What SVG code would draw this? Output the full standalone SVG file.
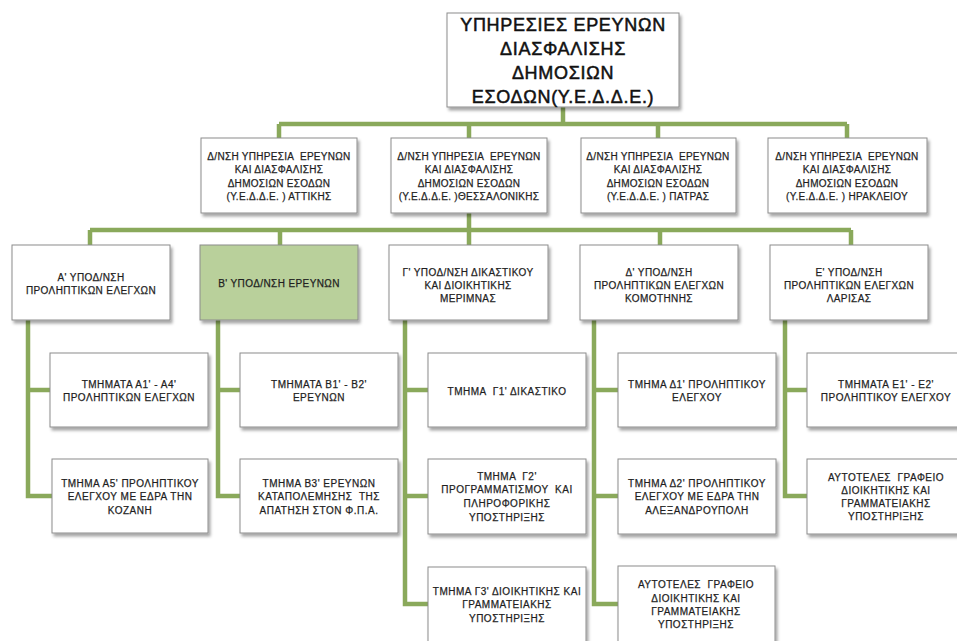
<svg xmlns="http://www.w3.org/2000/svg" width="957" height="641" viewBox="0 0 957 641">
<defs>
<filter id="sh" x="-10%" y="-10%" width="125%" height="130%">
<feDropShadow dx="2" dy="3" stdDeviation="1.8" flood-color="#000" flood-opacity="0.35"/>
</filter>
<style>
.box{fill:#fff;stroke:#8c8c8c;stroke-width:1;filter:url(#sh)}
.grn{fill:#b9d09b}
.ln{fill:none;stroke:#8aa95b;stroke-width:4.5}
text{font-family:"Liberation Sans",Arial,sans-serif;fill:#1f1f1f;stroke:#1f1f1f;stroke-width:0.25px;text-anchor:middle;white-space:pre}
.t0{font-size:18px;letter-spacing:0.7px;fill:#111;stroke:#111;stroke-width:0.5px}
.t1{font-size:10px;letter-spacing:0.3px}
.t2{font-size:10px;letter-spacing:0.4px}
.t3{font-size:10px;letter-spacing:0.5px}
</style>
</defs>
<rect width="957" height="641" fill="#fff"/>
<g id="connectors">
<path class="ln" d="M563 107V124M279 124H847M279 124V138M469 124V138M658 124V138M847 124V138"/>
<path class="ln" d="M90 230H851M469 213V245M90 230V245M280 230V245M660 230V245M851 230V245"/>
<path class="ln" d="M28 320V496H52M28 390H50"/>
<path class="ln" d="M218 320V496H240M218 390H240"/>
<path class="ln" d="M405 320V604H428M405 390H428M405 496H428"/>
<path class="ln" d="M594 320V604H618M594 390H618M594 496H618"/>
<path class="ln" d="M785 320V496H807M785 390H807"/>
</g>
<g id="root">
<rect class="box" x="447" y="13" width="232" height="94"/>
<text class="t0" x="563" y="31">ΥΠΗΡΕΣΙΕΣ ΕΡΕΥΝΩΝ</text>
<text class="t0" x="563" y="55">ΔΙΑΣΦΑΛΙΣΗΣ</text>
<text class="t0" x="563" y="79">ΔΗΜΟΣΙΩΝ</text>
<text class="t0" x="563" y="103">ΕΣΟΔΩΝ(Υ.Ε.Δ.Δ.Ε.)</text>
</g>
<g id="attikis">
<rect class="box" x="201" y="138" width="156" height="75"/>
<text class="t1" x="279" y="160">Δ/ΝΣΗ ΥΠΗΡΕΣΙΑ  ΕΡΕΥΝΩΝ</text>
<text class="t1" x="279" y="173">ΚΑΙ ΔΙΑΣΦΑΛΙΣΗΣ</text>
<text class="t1" x="279" y="187">ΔΗΜΟΣΙΩΝ ΕΣΟΔΩΝ</text>
<text class="t1" x="279" y="200">(Υ.Ε.Δ.Δ.Ε. ) ΑΤΤΙΚΗΣ</text>
</g>
<g id="thessalonikis">
<rect class="box" x="391" y="138" width="156" height="75"/>
<text class="t1" x="469" y="160">Δ/ΝΣΗ ΥΠΗΡΕΣΙΑ  ΕΡΕΥΝΩΝ</text>
<text class="t1" x="469" y="173">ΚΑΙ ΔΙΑΣΦΑΛΙΣΗΣ</text>
<text class="t1" x="469" y="187">ΔΗΜΟΣΙΩΝ ΕΣΟΔΩΝ</text>
<text class="t1" x="469" y="200">(Υ.Ε.Δ.Δ.Ε. )ΘΕΣΣΑΛΟΝΙΚΗΣ</text>
</g>
<g id="patras">
<rect class="box" x="581" y="138" width="155" height="75"/>
<text class="t1" x="658" y="160">Δ/ΝΣΗ ΥΠΗΡΕΣΙΑ  ΕΡΕΥΝΩΝ</text>
<text class="t1" x="658" y="173">ΚΑΙ ΔΙΑΣΦΑΛΙΣΗΣ</text>
<text class="t1" x="658" y="187">ΔΗΜΟΣΙΩΝ ΕΣΟΔΩΝ</text>
<text class="t1" x="658" y="200">(Υ.Ε.Δ.Δ.Ε. ) ΠΑΤΡΑΣ</text>
</g>
<g id="irakleiou">
<rect class="box" x="768" y="138" width="159" height="75"/>
<text class="t1" x="847" y="160">Δ/ΝΣΗ ΥΠΗΡΕΣΙΑ  ΕΡΕΥΝΩΝ</text>
<text class="t1" x="847" y="173">ΚΑΙ ΔΙΑΣΦΑΛΙΣΗΣ</text>
<text class="t1" x="847" y="187">ΔΗΜΟΣΙΩΝ ΕΣΟΔΩΝ</text>
<text class="t1" x="847" y="200">(Υ.Ε.Δ.Δ.Ε. ) ΗΡΑΚΛΕΙΟΥ</text>
</g>
<g id="ypod-a">
<rect class="box" x="12" y="245" width="158" height="75"/>
<text class="t2" x="91" y="281">Α' ΥΠΟΔ/ΝΣΗ</text>
<text class="t2" x="91" y="294">ΠΡΟΛΗΠΤΙΚΩΝ ΕΛΕΓΧΩΝ</text>
</g>
<g id="ypod-b">
<rect class="box grn" x="200" y="245" width="158" height="75"/>
<text class="t2" x="279" y="287">Β' ΥΠΟΔ/ΝΣΗ ΕΡΕΥΝΩΝ</text>
</g>
<g id="ypod-g">
<rect class="box" x="389" y="245" width="159" height="75"/>
<text class="t2" x="468" y="276">Γ' ΥΠΟΔ/ΝΣΗ ΔΙΚΑΣΤΙΚΟΥ</text>
<text class="t2" x="468" y="289">ΚΑΙ ΔΙΟΙΚΗΤΙΚΗΣ</text>
<text class="t2" x="468" y="302">ΜΕΡΙΜΝΑΣ</text>
</g>
<g id="ypod-d">
<rect class="box" x="580" y="245" width="158" height="75"/>
<text class="t2" x="659" y="276">Δ' ΥΠΟΔ/ΝΣΗ</text>
<text class="t2" x="659" y="289">ΠΡΟΛΗΠΤΙΚΩΝ ΕΛΕΓΧΩΝ</text>
<text class="t2" x="659" y="302">ΚΟΜΟΤΗΝΗΣ</text>
</g>
<g id="ypod-e">
<rect class="box" x="770" y="245" width="158" height="75"/>
<text class="t2" x="849" y="276">Ε' ΥΠΟΔ/ΝΣΗ</text>
<text class="t2" x="849" y="289">ΠΡΟΛΗΠΤΙΚΩΝ ΕΛΕΓΧΩΝ</text>
<text class="t2" x="849" y="302">ΛΑΡΙΣΑΣ</text>
</g>
<g id="a1-a4">
<rect class="box" x="50" y="353" width="158" height="74"/>
<text class="t3" x="129" y="388">ΤΜΗΜΑΤΑ Α1' - Α4'</text>
<text class="t3" x="129" y="401">ΠΡΟΛΗΠΤΙΚΩΝ ΕΛΕΓΧΩΝ</text>
</g>
<g id="a5">
<rect class="box" x="52" y="459" width="156" height="74"/>
<text class="t3" x="130" y="487">ΤΜΗΜΑ Α5' ΠΡΟΛΗΠΤΙΚΟΥ</text>
<text class="t3" x="130" y="500">ΕΛΕΓΧΟΥ ΜΕ ΕΔΡΑ ΤΗΝ</text>
<text class="t3" x="130" y="514">ΚΟΖΑΝΗ</text>
</g>
<g id="b1-b2">
<rect class="box" x="240" y="353" width="158" height="74"/>
<text class="t3" x="319" y="388">ΤΜΗΜΑΤΑ Β1' - Β2'</text>
<text class="t3" x="319" y="401">ΕΡΕΥΝΩΝ</text>
</g>
<g id="b3">
<rect class="box" x="240" y="459" width="158" height="74"/>
<text class="t3" x="319" y="487">ΤΜΗΜΑ Β3' ΕΡΕΥΝΩΝ</text>
<text class="t3" x="319" y="500">ΚΑΤΑΠΟΛΕΜΗΣΗΣ  ΤΗΣ</text>
<text class="t3" x="319" y="514">ΑΠΑΤΗΣΗ ΣΤΟΝ Φ.Π.Α.</text>
</g>
<g id="g1">
<rect class="box" x="428" y="353" width="158" height="74"/>
<text class="t3" x="507" y="395">ΤΜΗΜΑ  Γ1' ΔΙΚΑΣΤΙΚΟ</text>
</g>
<g id="g2">
<rect class="box" x="428" y="459" width="158" height="75"/>
<text class="t3" x="507" y="480">ΤΜΗΜΑ  Γ2'</text>
<text class="t3" x="507" y="493">ΠΡΟΓΡΑΜΜΑΤΙΣΜΟΥ  ΚΑΙ</text>
<text class="t3" x="507" y="507">ΠΛΗΡΟΦΟΡΙΚΗΣ</text>
<text class="t3" x="507" y="521">ΥΠΟΣΤΗΡΙΞΗΣ</text>
</g>
<g id="g3">
<rect class="box" x="428" y="567" width="158" height="80"/>
<text class="t3" x="507" y="595">ΤΜΗΜΑ Γ3' ΔΙΟΙΚΗΤΙΚΗΣ ΚΑΙ</text>
<text class="t3" x="507" y="608">ΓΡΑΜΜΑΤΕΙΑΚΗΣ</text>
<text class="t3" x="507" y="622">ΥΠΟΣΤΗΡΙΞΗΣ</text>
</g>
<g id="d1">
<rect class="box" x="618" y="353" width="158" height="74"/>
<text class="t3" x="697" y="388">ΤΜΗΜΑ Δ1' ΠΡΟΛΗΠΤΙΚΟΥ</text>
<text class="t3" x="697" y="401">ΕΛΕΓΧΟΥ</text>
</g>
<g id="d2">
<rect class="box" x="618" y="459" width="158" height="75"/>
<text class="t3" x="697" y="487">ΤΜΗΜΑ Δ2' ΠΡΟΛΗΠΤΙΚΟΥ</text>
<text class="t3" x="697" y="500">ΕΛΕΓΧΟΥ ΜΕ ΕΔΡΑ ΤΗΝ</text>
<text class="t3" x="697" y="514">ΑΛΕΞΑΝΔΡΟΥΠΟΛΗ</text>
</g>
<g id="d3">
<rect class="box" x="618" y="566" width="157" height="80"/>
<text class="t3" x="696" y="588">ΑΥΤΟΤΕΛΕΣ  ΓΡΑΦΕΙΟ</text>
<text class="t3" x="696" y="602">ΔΙΟΙΚΗΤΙΚΗΣ ΚΑΙ</text>
<text class="t3" x="696" y="615">ΓΡΑΜΜΑΤΕΙΑΚΗΣ</text>
<text class="t3" x="696" y="628">ΥΠΟΣΤΗΡΙΞΗΣ</text>
</g>
<g id="e1-e2">
<rect class="box" x="807" y="353" width="158" height="74"/>
<text class="t3" x="886" y="388">ΤΜΗΜΑΤΑ Ε1' - Ε2'</text>
<text class="t3" x="886" y="401">ΠΡΟΛΗΠΤΙΚΟΥ ΕΛΕΓΧΟΥ</text>
</g>
<g id="e-grafeio">
<rect class="box" x="807" y="459" width="158" height="75"/>
<text class="t3" x="886" y="481">ΑΥΤΟΤΕΛΕΣ  ΓΡΑΦΕΙΟ</text>
<text class="t3" x="886" y="494">ΔΙΟΙΚΗΤΙΚΗΣ ΚΑΙ</text>
<text class="t3" x="886" y="507">ΓΡΑΜΜΑΤΕΙΑΚΗΣ</text>
<text class="t3" x="886" y="520">ΥΠΟΣΤΗΡΙΞΗΣ</text>
</g>
</svg>
